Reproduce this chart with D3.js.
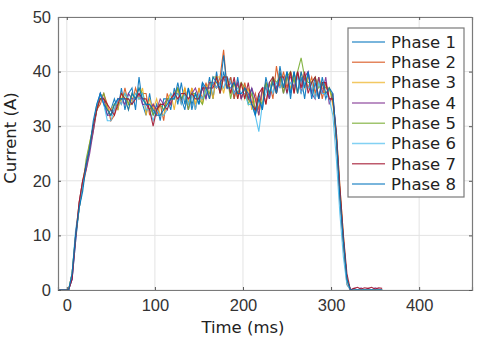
<!DOCTYPE html>
<html>
<head>
<meta charset="utf-8">
<script src="https://cdn.jsdelivr.net/npm/d3@7"></script>
<style>
  body { margin: 0; background: #fff; }
  svg { font-family: 'DejaVu Sans', sans-serif; }
</style>
</head>
<body>
<div id="chart"></div>
<script>
// Sample times (ms), one every 4 ms
const time = d3.range(-10, 359, 4);

const phaseNames = ['Phase 1', 'Phase 2', 'Phase 3', 'Phase 4', 'Phase 5', 'Phase 6', 'Phase 7', 'Phase 8'];
const phaseColors = ['#0072BD', '#D95319', '#EDB120', '#7E2F8E', '#77AC30', '#4DBEEE', '#A2142F', '#0072BD'];

// Current (A) per phase (ramp / plateau / fall)
const phase1 = `0 0 0 0 2 9 15 19 23 26 30 33
  36 34 32 33 35 33 37 33 36 37 33 39 34 32 36 32 34 31 35 35 33 37
  34 38 34 37 33 36 34 38 35 39 35 40 36 40 37 39 35 39 35 37 35 37
  32 36 33 38 35 39 36 41 37 40 35 40 36 39 35 40 36 39 35 38 35 37
  35 28 18 9 2 0 0 0 0 0 0 0 0 0 0`;
const phase2 = `0 0 0 0 3 10 15 19 22 26 29 33
  34 36 34 31 32 35 34 37 34 34 37 35 36 36 32 34 32 34 31 36 34 36
  37 34 37 34 37 33 37 35 38 35 38 37 39 44 37 39 35 38 35 38 35 34
  36 33 37 34 38 35 41 37 40 37 40 36 40 36 39 37 39 36 39 35 38 35
  35 27 17 8 1 0 0 0 0 0 0 0 0 0 0`;
const phase3 = `0 0 0 0 3 10 16 20 23 27 30 34
  35 35 33 33 34 33 36 35 33 35 36 35 37 32 35 33 35 32 32 35 36 33
  37 35 37 34 37 34 37 34 37 38 35 39 39 36 39 36 38 35 38 35 37 33
  35 32 36 38 36 38 36 40 37 39 37 39 36 40 37 39 38 35 39 37 36 37
  34 29 19 10 2 0 0 0 0 0 0 0 0 0 0`;
const phase4 = `0 0 0 0 2 9 16 20 22 25 29 33
  36 35 32 32 33 35 35 34 36 35 35 36 34 34 33 34 33 35 34 35 34 36
  36 35 36 33 36 37 35 37 35 38 38 37 38 39 37 38 36 38 35 37 35 37
  35 32 37 37 35 39 37 39 36 39 39 37 40 36 39 40 36 35 39 36 39 34
  36 28 18 9 2 0 0.3 0 0.4 0 0.3 0 0.4 0.2 0`;
const phase5 = `0 0 0 0 3 10 15 19 24 27 30 33
  35 36 33 32 34 34 35 36 34 36 35 37 36 34 34 32 33 34 33 35 35 35
  37 35 36 33 36 36 35 34 37 36 39 39 36 39 39 35 38 36 38 37 34 36
  33 35 34 38 36 39 38 39 36 39 40 38 40 42.5 39 38 38 39 37 38 37 37
  35 28 18 9 2 0 0 0 0 0 0 0 0 0 0`;
const phase6 = `0 0 0 0 3 11 15 19 23 26 30 34
  36 34 31 31 33 35 34 36 35 34 36 35 36 33 33 31 33 32 32 33 36 35
  36 34 36 34 36 33 36 35 37 37 38 37 38 37 39 38 36 37 36 36 34 34
  32 29 34 36 38 36 38 37 39 36 38 37 39 36 38 37 38 35 38 36 36 35
  32 24 14 6 1 0 0 0 0 0 0 0 0 0 0`;
const phase7 = `0 0 0 0 2 10 16 20 23 26 30 33
  35 35 34 33 32 34 36 35 35 34 35 36 35 35 33 30 33 34 34 33 35 36
  35 36 36 35 36 35 35 37 37 37 37 39 36 39 39 36 39 35 38 35 38 34
  33 36 37 34 38 39 36 39 39 36 40 36 40 37 40 36 38 39 35 38 38 35
  35 29 19 10 3 0 0.3 0.5 0.2 0.4 0.3 0.5 0.2 0.4 0.3`;
const phase8 = `0 0 0 0 3 10 15 18 23 26 31 34
  36 34 33 32 34 35 35 35 33 36 35 37 35 34 34 33 32 32 33 34 35 35
  38 35 33 37 34 36 34 38 37 35 39 38 37 43 37 37 38 36 36 37 36 34
  32 35 33 39 36 38 36 40 37 40 36 40 36 40 37 40 35 38 35 39 36 37
  36 28 17 9 2 0 0 0 0 0 0 0 0 0 0`;

const phaseValues = [phase1, phase2, phase3, phase4, phase5, phase6, phase7, phase8]
  .map((s) => s.trim().split(/\s+/).map(Number));

const xTicks = [0, 100, 200, 300, 400];
const yTicks = [0, 10, 20, 30, 40, 50];

// Chart dimensions
const W = 480;
const H = 340;
const margin = { top: 17, right: 8, bottom: 50, left: 58 };
const width = W - margin.left - margin.right;
const height = H - margin.top - margin.bottom;

const svg = d3
  .select('#chart')
  .append('svg')
  .attr('width', W)
  .attr('height', H);

const g = svg.append('g').attr('transform', `translate(${margin.left}, ${margin.top})`);

const x = d3.scaleLinear().domain([-10, 460]).range([0, width]);
const y = d3.scaleLinear().domain([0, 50]).range([height, 0]);

// Grid
g.append('g')
  .selectAll('line')
  .data(xTicks)
  .join('line')
  .attr('x1', (d) => x(d))
  .attr('x2', (d) => x(d))
  .attr('y1', 0)
  .attr('y2', height)
  .attr('stroke', '#e3e3e3');
g.append('g')
  .selectAll('line')
  .data(yTicks)
  .join('line')
  .attr('x1', 0)
  .attr('x2', width)
  .attr('y1', (d) => y(d))
  .attr('y2', (d) => y(d))
  .attr('stroke', '#e3e3e3');

// Lines
const line = d3
  .line()
  .x((d, i) => x(time[i]))
  .y((d) => y(d));

g.append('g')
  .selectAll('path')
  .data(phaseValues)
  .join('path')
  .attr('d', line)
  .attr('fill', 'none')
  .attr('stroke', (d, i) => phaseColors[i])
  .attr('stroke-width', 1.1)
  .attr('stroke-opacity', 0.9);

// Axes
g.append('g')
  .attr('transform', `translate(0, ${height})`)
  .call(d3.axisBottom(x).tickValues(xTicks).tickSize(-3).tickPadding(9));
g.append('g')
  .call(d3.axisLeft(y).tickValues(yTicks).tickSize(-3).tickPadding(7));
g.append('g')
  .attr('transform', `translate(${width}, 0)`)
  .call(d3.axisRight(y).tickValues(yTicks).tickSize(-3).tickFormat(''));
g.append('g')
  .call(d3.axisTop(x).tickValues(xTicks).tickSize(-3).tickFormat(''));

g.selectAll('.domain').attr('stroke', '#7a7a7a').attr('stroke-width', 1.2);
g.selectAll('.tick line').attr('stroke', '#555');
g.selectAll('.tick text').attr('fill', '#333').style('font-size', '16.5px');

// Axis labels
svg
  .append('text')
  .attr('x', margin.left + x(200))
  .attr('y', 333)
  .attr('text-anchor', 'middle')
  .attr('fill', '#222')
  .style('font-size', '16.5px')
  .text('Time (ms)');
svg
  .append('text')
  .attr('transform', `translate(16, 138) rotate(-90)`)
  .attr('text-anchor', 'middle')
  .attr('fill', '#222')
  .style('font-size', '16.5px')
  .text('Current (A)');

// Legend
const legend = svg.append('g').attr('transform', 'translate(348, 28)');
legend
  .append('rect')
  .attr('width', 116)
  .attr('height', 169)
  .attr('fill', '#fff')
  .attr('stroke', '#7a7a7a')
  .attr('stroke-width', 1.2);
const items = legend
  .selectAll('.item')
  .data(phaseNames)
  .join('g')
  .attr('class', 'item')
  .attr('transform', (d, i) => `translate(0, ${14 + i * 20.3})`);
items
  .append('line')
  .attr('x1', 4)
  .attr('x2', 37)
  .attr('stroke', (d, i) => phaseColors[i])
  .attr('stroke-width', 1.5)
  .attr('stroke-opacity', 0.7);
items
  .append('text')
  .attr('x', 43)
  .attr('dy', '0.35em')
  .attr('fill', '#222')
  .style('font-size', '16.5px')
  .text((d) => d);
</script>
</body>
</html>
